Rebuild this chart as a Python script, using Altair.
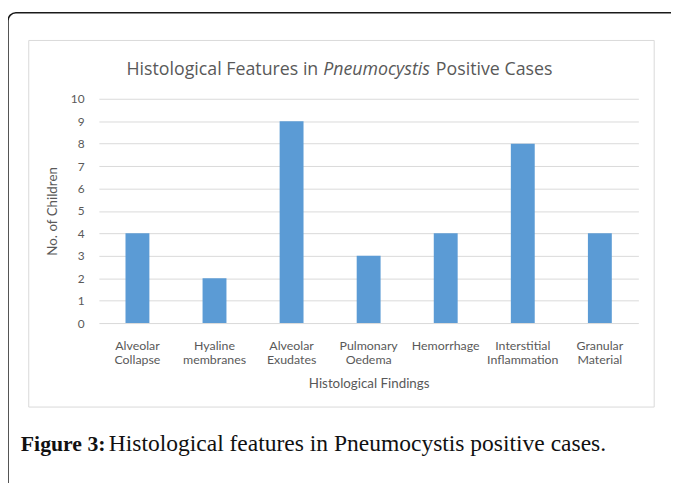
import altair as alt
import pandas as pd

categories = ["Alveolar Collapse", "Hyaline membranes", "Alveolar Exudates",
              "Pulmonary Oedema", "Hemorrhage", "Interstitial Inflammation",
              "Granular Material"]
counts = [4, 2, 9, 3, 4, 8, 4]
y_ticks = [0, 1, 2, 3, 4, 5, 6, 7, 8, 9, 10]
title_left = "Histological Features in"
title_italic = "Pneumocystis"
title_right = "Positive Cases"
caption_bold = "Figure 3:"
caption_text = "Histological features in Pneumocystis positive cases."
x_title = "Histological Findings"
y_title = "No. of Children"

df = pd.DataFrame({"finding": categories, "count": counts})
one = pd.DataFrame({"k": [0]})

W, H = 546, 227
GREY = "#595959"
FONT = "Lato"
TFONT = "Open Sans"

# frames (decorative, page coords -> plot coords: x-100, y-97)
outer = alt.Chart(one).mark_rect(fill="transparent", stroke="#1a1a1a", strokeWidth=1.5,
                                 cornerRadius=8).encode(
    x=alt.value(-92), x2=alt.value(620), y=alt.value(-87), y2=alt.value(470))
inner = alt.Chart(one).mark_rect(fill="transparent", stroke="#d9d9d9", strokeWidth=1).encode(
    x=alt.value(-71), x2=alt.value(562), y=alt.value(-59), y2=alt.value(312))

bars = alt.Chart(df).mark_bar(color="#5b9bd5").encode(
    x=alt.X("finding:N", sort=categories,
            scale=alt.Scale(paddingInner=0.69, paddingOuter=0.345),
            axis=alt.Axis(title=x_title, labelAngle=0, labelExpr="split(datum.label, ' ')",
                          domain=False, ticks=False, grid=False, labelPadding=17,
                          labelLineHeight=14, labelFontSize=12.5, labelColor=GREY,
                          labelFont=FONT, titleFont=FONT, titleFontSize=13.5,
                          titleFontWeight="normal", titleColor=GREY, titlePadding=11)),
    y=alt.Y("count:Q", scale=alt.Scale(domain=[0, 10], nice=False),
            axis=alt.Axis(title=y_title, values=y_ticks, domain=False, ticks=False,
                          grid=True, gridColor="#d9d9d9", labelPadding=15,
                          labelFontSize=12, labelColor=GREY, labelFont=FONT,
                          titleFont=FONT, titleFontSize=13.5, titleFontWeight="normal",
                          titleColor=GREY, titlePadding=11)),
)

t1 = alt.Chart(pd.DataFrame({"t": [title_left]})).mark_text(
    align="right", baseline="alphabetic", font=TFONT, fontSize=18, color=GREY).encode(
    x=alt.value(222), y=alt.value(-24), text="t:N")
t2 = alt.Chart(pd.DataFrame({"t": [title_italic]})).mark_text(
    align="left", baseline="alphabetic", font=TFONT, fontSize=18, fontStyle="italic",
    color=GREY).encode(x=alt.value(227), y=alt.value(-24), text="t:N")
t3 = alt.Chart(pd.DataFrame({"t": [title_right]})).mark_text(
    align="left", baseline="alphabetic", font=TFONT, fontSize=18, color=GREY).encode(
    x=alt.value(341), y=alt.value(-24), text="t:N")

c1 = alt.Chart(pd.DataFrame({"t": [caption_bold]})).mark_text(
    align="left", baseline="alphabetic", font="Liberation Serif", fontSize=22,
    fontWeight="bold", color="#111111").encode(
    x=alt.value(-79), y=alt.value(356), text="t:N")
c2 = alt.Chart(pd.DataFrame({"t": [caption_text]})).mark_text(
    align="left", baseline="alphabetic", font="Liberation Serif", fontSize=23.8,
    color="#111111").encode(x=alt.value(10), y=alt.value(356), text="t:N")

chart = alt.layer(outer, inner, bars, t1, t2, t3, c1, c2).properties(
    width=W, height=H,
    autosize=alt.AutoSizeParams(type="none"),
    padding={"left": 92, "top": 89, "right": 33, "bottom": 159},
).configure_view(stroke=None)

chart.save("out.html", embed_options={"renderer": "svg", "actions": False})
